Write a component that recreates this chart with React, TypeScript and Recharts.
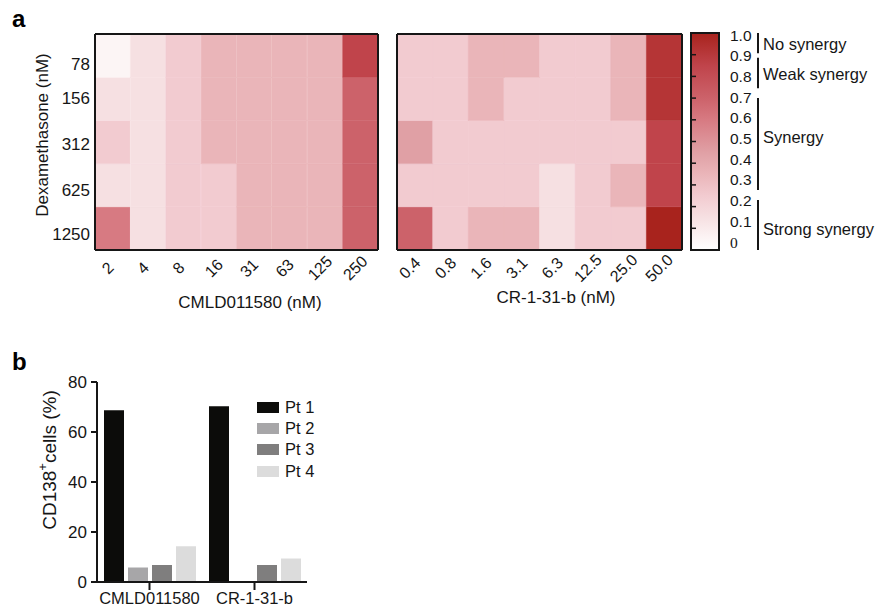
import React from 'react';
import { Bar, Line, XAxis, YAxis, Cell, Legend, ReferenceLine, ComposedChart, BarChart } from 'recharts';

const FONT = '"Liberation Sans", Arial, Helvetica, sans-serif';
const INK = '#161616';

// ---- Panel a data ----
const dexLevels = ['78', '156', '312', '625', '1250']; // top -> bottom
const dexTickPos = [4.31, 3.51, 2.46, 1.4, 0.37]; // row units from bottom
const cmldConc = ['2', '4', '8', '16', '31', '63', '125', '250'];
const crConc = ['0.4', '0.8', '1.6', '3.1', '6.3', '12.5', '25.0', '50.0'];

// rows follow dexLevels (78 ... 1250), columns follow the concentration list
const cmldSynergy = [
  [0.05, 0.15, 0.25, 0.35, 0.35, 0.35, 0.35, 0.85],
  [0.15, 0.15, 0.25, 0.35, 0.35, 0.35, 0.35, 0.7],
  [0.25, 0.15, 0.25, 0.35, 0.35, 0.35, 0.35, 0.7],
  [0.15, 0.15, 0.25, 0.25, 0.35, 0.35, 0.35, 0.7],
  [0.6, 0.15, 0.25, 0.25, 0.35, 0.35, 0.35, 0.7],
];
const crSynergy = [
  [0.25, 0.25, 0.35, 0.35, 0.25, 0.25, 0.35, 0.92],
  [0.25, 0.25, 0.35, 0.25, 0.25, 0.25, 0.35, 0.92],
  [0.45, 0.25, 0.25, 0.25, 0.25, 0.25, 0.25, 0.85],
  [0.25, 0.25, 0.25, 0.25, 0.15, 0.25, 0.35, 0.85],
  [0.7, 0.25, 0.35, 0.35, 0.15, 0.25, 0.25, 1.0],
];

const colorbarTicks = [0, 0.1, 0.2, 0.3, 0.4, 0.5, 0.6, 0.7, 0.8, 0.9, 1.0];
const colorbarLabelDomain: [number, number] = [-0.0386, 1.0097];
const synergyBands = [
  { label: 'No synergy', lo: 0.912, hi: 1.01, labelDy: 1 },
  { label: 'Weak synergy', lo: 0.743, hi: 0.89, labelDy: 1 },
  { label: 'Synergy', lo: 0.251, hi: 0.696, labelDy: -7 },
  { label: 'Strong synergy', lo: -0.0386, hi: 0.203, labelDy: 4 },
];

// ---- Panel b data ----
const drugGroups = ['CMLD011580', 'CR-1-31-b'];
const pt1 = [68.7, 70.3];
const pt2 = [5.8, 0];
const pt3 = [6.8, 6.8];
const pt4 = [14.3, 9.4];
const yTicksB = [0, 20, 40, 60, 80];

// colour scale
const colorStops: [number, string][] = [
  [0, '#ffffff'],
  [0.15, '#f6e0e2'],
  [0.25, '#f2cbd0'],
  [0.35, '#eab5b9'],
  [0.45, '#e0a0a5'],
  [0.6, '#d77a82'],
  [0.7, '#cc626a'],
  [0.85, '#c0444b'],
  [1, '#a8231d'],
];

function hexToRgb(h: string) {
  return [parseInt(h.slice(1, 3), 16), parseInt(h.slice(3, 5), 16), parseInt(h.slice(5, 7), 16)];
}
function synergyColor(v: number) {
  for (let i = 0; i < colorStops.length - 1; i++) {
    const [a, ca] = colorStops[i];
    const [b, cb] = colorStops[i + 1];
    if (v >= a && v <= b) {
      const t = (v - a) / (b - a);
      const A = hexToRgb(ca);
      const B = hexToRgb(cb);
      const c = A.map((x, k) => Math.round(x + (B[k] - x) * t));
      return `rgb(${c[0]},${c[1]},${c[2]})`;
    }
  }
  return v <= 0 ? colorStops[0][1] : colorStops[colorStops.length - 1][1];
}

const RotTick = (props: any) => {
  const { x, y, payload } = props;
  const cx = x - 5;
  const cy = y + 18;
  return (
    <text x={cx} y={cy} transform={`rotate(-45 ${cx} ${cy})`} textAnchor="middle" dominantBaseline="central"
      fontSize={16} fill={INK} fontFamily={FONT}>
      {payload.value}
    </text>
  );
};

const CbTick = (props: any) => {
  const { x, y, payload } = props;
  const v = payload.value;
  return (
    <text x={x} y={y} dominantBaseline="central" fontSize={15.5} fill={INK}
      fontFamily={v === 0 ? '"Liberation Serif", "Times New Roman", serif' : FONT}>
      {v === 0 ? '0' : v.toFixed(1)}
    </text>
  );
};

const EmptyTick = () => <g />;
const hiddenDot = { r: 0, strokeWidth: 0, fill: 'none', stroke: 'none' };

function Heatmap(props: {
  concs: string[];
  values: number[][];
  title: string;
  width: number;
  marginLeft: number;
  marginRight: number;
  showY: boolean;
  titleDx: number;
  titleBaseline: number;
}) {
  const { concs, values, title, width, marginLeft, marginRight, showY, titleDx, titleBaseline } = props;
  const data = concs.map((c, i) => {
    const row: any = { conc: c };
    dexLevels.forEach((d, r) => {
      row['d' + d] = values[r][i];
    });
    return row;
  });
  const stackOrder = [...dexLevels].reverse();
  const border = { stroke: INK, strokeWidth: 2 };
  return (
    <ComposedChart width={width} height={320} data={data}
      margin={{ top: 33, right: marginRight, bottom: 0, left: marginLeft }}
      barCategoryGap={0} barGap={0}>
      {stackOrder.map((d) => (
        <Bar key={d} dataKey={() => 1} name={d} stackId="s" isAnimationActive={false}>
          {data.map((row: any, i: number) => {
            const c = synergyColor(row['d' + d]);
            return <Cell key={i} fill={c} stroke={c} strokeWidth={0.5} />;
          })}
        </Bar>
      ))}
      <Line xAxisId="top" yAxisId="right" dataKey={() => 2.5} stroke="none" dot={false} activeDot={false}
        isAnimationActive={false} legendType="none" />
      <XAxis dataKey="conc" height={70} tickSize={0} tickMargin={0} interval={0}
        tick={(p: any) => <RotTick {...p} />} axisLine={border} tickLine={false}
        label={{
          content: (p: any) => {
            const vb = p.viewBox || { x: 0, width: 0 };
            return (
              <text x={vb.x + vb.width / 2 + titleDx} y={titleBaseline} textAnchor="middle"
                fontSize={17} fill={INK} fontFamily={FONT}>{title}</text>
            );
          },
        }} />
      <XAxis xAxisId="top" orientation="top" dataKey="conc" height={1} tick={false} tickLine={false} axisLine={border} />
      <YAxis type="number" domain={[0, 5]} ticks={showY ? dexTickPos : [0]} width={showY ? 95 : 1}
        tickSize={0} tickMargin={5} tickLine={false} axisLine={border} interval={0}
        tick={showY ? { fontSize: 17, fill: INK, fontFamily: FONT } : false}
        tickFormatter={(v: number) => dexLevels[dexTickPos.indexOf(v)]}
        label={showY ? {
          content: () => (
            <text x={42} y={135} transform="rotate(-90 42 135)" textAnchor="middle" dominantBaseline="central"
              fontSize={17} fill={INK} fontFamily={FONT}>Dexamethasone (nM)</text>
          ),
        } : undefined} />
      <YAxis yAxisId="right" orientation="right" type="number" domain={[0, 5]} width={1} tick={false}
        tickLine={false} axisLine={border} />
    </ComposedChart>
  );
}

function Colorbar() {
  const gradStops = [...colorStops].reverse();
  return (
    <ComposedChart width={90} height={320} data={[{ v: 1 }]} margin={{ top: 33, right: 0, bottom: 70, left: 11 }}
      barCategoryGap={0}>
      <defs>
        <linearGradient id="cbGrad" x1="0" y1="0" x2="0" y2="1">
          {gradStops.map(([v, c]) => (
            <stop key={v} offset={1 - v} stopColor={c} />
          ))}
        </linearGradient>
      </defs>
      <XAxis hide />
      <Bar yAxisId="l" dataKey="v" fill="url(#cbGrad)" stroke={INK} strokeWidth={2} isAnimationActive={false} />
      <Line yAxisId="r" dataKey="v" stroke="none" dot={hiddenDot} activeDot={false} isAnimationActive={false} />
      <YAxis yAxisId="l" orientation="left" mirror width={1} type="number" domain={[0, 1]} ticks={colorbarTicks}
        interval={0} tick={(p: any) => <EmptyTick />} tickSize={5} tickLine={{ stroke: INK, strokeWidth: 1.5 }}
        axisLine={false} />
      <YAxis yAxisId="r" orientation="right" width={51} type="number" domain={colorbarLabelDomain}
        ticks={colorbarTicks} interval={0} tickSize={0} tickMargin={11} axisLine={false} tickLine={false}
        tick={(p: any) => <CbTick {...p} />} />
    </ComposedChart>
  );
}

function Brackets() {
  return (
    <ComposedChart width={138} height={320} data={synergyBands} margin={{ top: 33, right: 0, bottom: 70, left: 18 }}>
      <XAxis type="number" dataKey={() => 0.5} domain={[0, 1]} hide />
      <YAxis type="number" domain={colorbarLabelDomain} allowDataOverflow hide />
      <Line dataKey="hi" stroke="none" dot={false} activeDot={false} isAnimationActive={false} />
      {synergyBands.map((b) => (
        <ReferenceLine key={b.label} segment={[{ x: 0, y: b.lo }, { x: 0, y: b.hi }]} stroke={INK} strokeWidth={2}
          ifOverflow="visible"
          label={{ value: b.label, position: 'right', offset: 5, dy: b.labelDy, fill: INK, fontSize: 16.5, fontFamily: FONT }} />
      ))}
    </ComposedChart>
  );
}

const renderLegend = (props: any) => (
  <div style={{ display: 'flex', flexDirection: 'column', fontFamily: FONT }}>
    {(props.payload || []).map((e: any) => (
      <div key={e.value} style={{ display: 'flex', alignItems: 'center', height: 21.3 }}>
        <span style={{ width: 22, height: 11, background: e.color, display: 'inline-block', marginRight: 6 }} />
        <span style={{ fontSize: 16.5, color: INK, lineHeight: '21px' }}>{e.value}</span>
      </div>
    ))}
  </div>
);

function PanelB() {
  const data = drugGroups.map((g, i) => ({ group: g, pt1: pt1[i], pt2: pt2[i], pt3: pt3[i], pt4: pt4[i] }));
  const line = { stroke: INK, strokeWidth: 2 };
  return (
    <BarChart width={330} height={270} data={data} margin={{ top: 42, right: 23, bottom: 0, left: 0 }}
      barCategoryGap={7} barGap={4}>
      <XAxis dataKey="group" height={28} tickSize={8} tickMargin={2} interval={0} axisLine={line} tickLine={line}
        tick={{ fontSize: 16.5, fill: INK, fontFamily: FONT }} />
      <YAxis width={97} type="number" domain={[0, 80]} ticks={yTicksB} tickSize={6} tickMargin={4}
        axisLine={line} tickLine={line} tick={{ fontSize: 17, fill: INK, fontFamily: FONT }}
        label={{
          content: (p: any) => {
            const vb = p.viewBox || { y: 42, height: 200 };
            const cx = 49;
            const cy = vb.y + vb.height / 2 - 22;
            return (
              <text x={cx} y={cy} transform={`rotate(-90 ${cx} ${cy})`} textAnchor="middle" dominantBaseline="central"
                fontSize={19} fill={INK} fontFamily={FONT}>
                <tspan>CD138</tspan>
                <tspan dy={-7} fontSize={13}>+</tspan>
                <tspan dy={7}>cells (%)</tspan>
              </text>
            );
          },
        }} />
      <Bar dataKey="pt1" name="Pt 1" fill="#0c0c0a" isAnimationActive={false} />
      <Bar dataKey="pt2" name="Pt 2" fill="#a7a6a8" isAnimationActive={false} />
      <Bar dataKey="pt3" name="Pt 3" fill="#7f7e7e" isAnimationActive={false} />
      <Bar dataKey="pt4" name="Pt 4" fill="#dcdcdc" isAnimationActive={false} />
      <Legend layout="vertical" align="center" verticalAlign="middle" content={renderLegend}
        wrapperStyle={{ top: 56.5, left: 257, width: 'auto' }} />
    </BarChart>
  );
}

export default function App() {
  return (
    <div style={{ position: 'absolute', left: 0, top: 0, width: 878, height: 610, background: '#fff', fontFamily: FONT, overflow: 'hidden' }}>
      <div style={{ position: 'absolute', left: 0, top: 0 }}>
        <Heatmap concs={cmldConc} values={cmldSynergy} title="CMLD011580 (nM)" width={400} marginLeft={0}
          marginRight={21} showY titleDx={13.5} titleBaseline={308} />
      </div>
      <div style={{ position: 'absolute', left: 380, top: 0 }}>
        <Heatmap concs={crConc} values={crSynergy} title="CR-1-31-b (nM)" width={310} marginLeft={16}
          marginRight={7} showY={false} titleDx={16.5} titleBaseline={303} />
      </div>
      <div style={{ position: 'absolute', left: 680, top: 0 }}>
        <Colorbar />
      </div>
      <div style={{ position: 'absolute', left: 740, top: 0 }}>
        <Brackets />
      </div>
      <div style={{ position: 'absolute', left: 0, top: 340 }}>
        <PanelB />
      </div>
      <svg width={878} height={610} style={{ position: 'absolute', left: 0, top: 0, pointerEvents: 'none' }}>
        <text x={12} y={26.5} fontSize={24} fontWeight="bold" fill="#000" fontFamily={FONT}>a</text>
        <text x={12} y={370} fontSize={24} fontWeight="bold" fill="#000" fontFamily={FONT}>b</text>
      </svg>
    </div>
  );
}
